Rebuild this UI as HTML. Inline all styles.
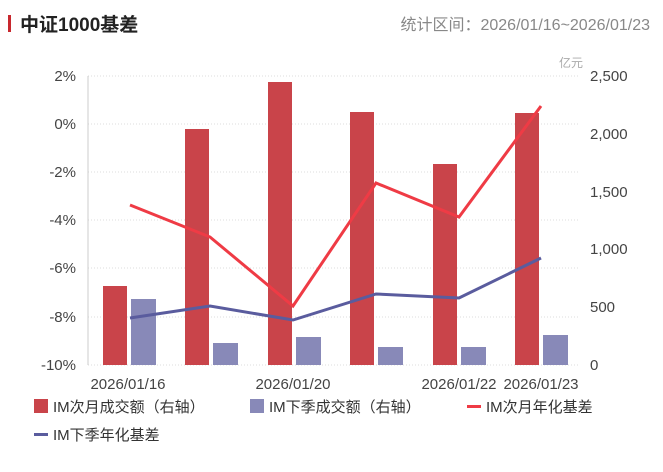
<!DOCTYPE html>
<html><head><meta charset="utf-8"><style>
body{margin:0;background:#fff;}
svg text{font-family:"Liberation Sans","Noto Sans CJK SC",sans-serif;}
</style></head><body>
<svg width="663" height="467" xmlns="http://www.w3.org/2000/svg">
<rect x="8" y="15" width="3" height="17" fill="#c8282e"/>
<text x="20" y="31" font-size="19" font-weight="bold" fill="#222">中证1000基差</text>
<text x="650" y="30" font-size="16" fill="#888" text-anchor="end">统计区间：2026/01/16~2026/01/23</text>
<text x="583" y="67" font-size="12" fill="#aaa" text-anchor="end">亿元</text>
<g stroke="#ddd" stroke-dasharray="1,2" stroke-width="1">
<line x1="88" y1="76" x2="578" y2="76"/><line x1="88" y1="124" x2="578" y2="124"/><line x1="88" y1="172" x2="578" y2="172"/><line x1="88" y1="220" x2="578" y2="220"/><line x1="88" y1="268" x2="578" y2="268"/><line x1="88" y1="317" x2="578" y2="317"/><line x1="88" y1="365" x2="578" y2="365"/>
</g>
<line x1="88" y1="76" x2="88" y2="365" stroke="#ccc"/>
<g font-size="15" fill="#444" text-anchor="end">
<text x="76" y="81">2%</text><text x="76" y="129">0%</text><text x="76" y="177">-2%</text><text x="76" y="225">-4%</text><text x="76" y="273">-6%</text><text x="76" y="322">-8%</text><text x="76" y="370">-10%</text>
</g>
<g font-size="15" fill="#444" text-anchor="start">
<text x="590" y="81">2,500</text><text x="590" y="139">2,000</text><text x="590" y="197">1,500</text><text x="590" y="254">1,000</text><text x="590" y="312">500</text><text x="590" y="370">0</text>
</g>
<g fill="#c9444a">
<rect x="103" y="286" width="24" height="79"/><rect x="185" y="129" width="24" height="236"/><rect x="268" y="82" width="24" height="283"/><rect x="350" y="112" width="24" height="253"/><rect x="433" y="164" width="24" height="201"/><rect x="515" y="113" width="24" height="252"/>
</g>
<g fill="#8889b8">
<rect x="131" y="299" width="25" height="66"/><rect x="213" y="343" width="25" height="22"/><rect x="296" y="337" width="25" height="28"/><rect x="378" y="347" width="25" height="18"/><rect x="461" y="347" width="25" height="18"/><rect x="543" y="335" width="25" height="30"/>
</g>
<polyline points="130,205 210,237 293,306 376,183 459,217 541,106" fill="none" stroke="#ef3b45" stroke-width="3"/>
<polyline points="130,318 210,306 293,320 376,294 459,298 541,258" fill="none" stroke="#5a5c9e" stroke-width="3"/>
<g font-size="15" fill="#444" text-anchor="middle">
<text x="128" y="389">2026/01/16</text><text x="293" y="389">2026/01/20</text><text x="459" y="389">2026/01/22</text><text x="541" y="389">2026/01/23</text>
</g>
<g font-size="15" fill="#333">
<rect x="34" y="399" width="14" height="14" fill="#c9444a"/><text x="53" y="412">IM次月成交额（右轴）</text>
<rect x="250" y="399" width="14" height="14" fill="#8889b8"/><text x="269" y="412">IM下季成交额（右轴）</text>
<rect x="467" y="405" width="14" height="3" fill="#ef3b45"/><text x="486" y="412">IM次月年化基差</text>
<rect x="34" y="433" width="14" height="3" fill="#5a5c9e"/><text x="53" y="440">IM下季年化基差</text>
</g>
</svg>
</body></html>
